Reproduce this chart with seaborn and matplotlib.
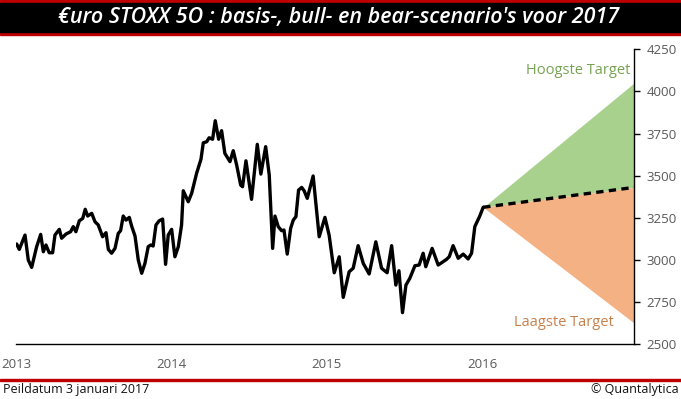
import matplotlib
matplotlib.use("Agg")
import matplotlib.pyplot as plt
import seaborn as sns
import pandas as pd
from matplotlib.patches import Rectangle

# Euro STOXX 50 (x in years)
years = [2013.001, 2013.018, 2013.055, 2013.076, 2013.098, 2013.130, 2013.156, 2013.173,
         2013.190, 2013.211, 2013.233, 2013.248, 2013.276, 2013.291, 2013.319, 2013.349,
         2013.366, 2013.383, 2013.405, 2013.427, 2013.443, 2013.459, 2013.485, 2013.506,
         2013.527, 2013.555, 2013.577, 2013.592, 2013.613, 2013.635, 2013.656, 2013.671,
         2013.688, 2013.706, 2013.727, 2013.742, 2013.764, 2013.785, 2013.807, 2013.828,
         2013.849, 2013.865, 2013.881, 2013.899, 2013.920, 2013.942, 2013.961, 2013.978,
         2014.000, 2014.021, 2014.043, 2014.064, 2014.075, 2014.107, 2014.129, 2014.161,
         2014.189, 2014.204, 2014.226, 2014.242, 2014.264, 2014.281, 2014.303, 2014.322,
         2014.343, 2014.376, 2014.397, 2014.419, 2014.445, 2014.457, 2014.479, 2014.515,
         2014.552, 2014.575, 2014.606, 2014.629, 2014.651, 2014.666, 2014.687, 2014.709,
         2014.724, 2014.745, 2014.767, 2014.784, 2014.801, 2014.818, 2014.838, 2014.854,
         2014.874, 2014.912, 2014.951, 2014.988, 2015.015, 2015.048, 2015.080, 2015.106,
         2015.144, 2015.170, 2015.202, 2015.235, 2015.273, 2015.316, 2015.353, 2015.389,
         2015.418, 2015.445, 2015.465, 2015.488, 2015.510, 2015.535, 2015.568, 2015.595,
         2015.621, 2015.638, 2015.679, 2015.718, 2015.772, 2015.789, 2015.814, 2015.847,
         2015.879, 2015.911, 2015.933, 2015.954, 2015.986, 2016.008]
stoxx = [3094, 3062, 3147, 2999, 2955, 3078, 3151, 3048,
         3088, 3042, 3042, 3147, 3181, 3128, 3153, 3167,
         3197, 3167, 3232, 3246, 3300, 3260, 3276, 3226,
         3207, 3137, 3161, 3062, 3039, 3068, 3157, 3173,
         3260, 3236, 3252, 3201, 3141, 2999, 2920, 2979,
         3078, 3088, 3082, 3207, 3232, 3242, 2973, 3147,
         3181, 3018, 3078, 3207, 3410, 3345, 3395, 3514,
         3597, 3695, 3701, 3725, 3716, 3826, 3716, 3767,
         3632, 3583, 3648, 3563, 3444, 3434, 3588, 3359,
         3686, 3509, 3672, 3504, 3068, 3260, 3197, 3173,
         3177, 3034, 3187, 3236, 3256, 3414, 3430, 3410,
         3365, 3498, 3137, 3252, 3147, 2923, 3018, 2777,
         2929, 2950, 3084, 2979, 2916, 3107, 2950, 2923,
         3084, 2850, 2935, 2686, 2850, 2890, 2965, 2969,
         3039, 2959, 3068, 2969, 3003, 3018, 3084, 3009,
         3034, 3005, 3039, 3197, 3260, 3312]

# scenarios 2017
scen_x = [2016.008, 2016.98]
basis = [3312, 3430]
bull = [3312, 4050]
bear = [3312, 2625]

y_ticks = [2500, 2750, 3000, 3250, 3500, 3750, 4000, 4250]
x_ticks = [2013, 2014, 2015, 2016]

df = pd.DataFrame({"jaar": years, "koers": stoxx})

sns.set_style("white")
plt.rcParams["font.family"] = ["Open Sans", "DejaVu Sans"]

fig = plt.figure(figsize=(6.81, 3.99), dpi=100)
ax = fig.add_axes([0.0242, 0.1378, 0.9068, 0.7386])

ax.fill_between(scen_x, basis, bull, color="#a9d18e", lw=0, zorder=1)
ax.fill_between(scen_x, bear, basis, color="#f4b183", lw=0, zorder=1)
sns.lineplot(data=df, x="jaar", y="koers", color="black", lw=2.4, ax=ax, zorder=3)
ax.plot(scen_x, basis, color="black", lw=2.4, ls=(0, (2.2, 1.6)), zorder=3)

ax.text(2016.62, 4125, "Hoogste Target", color="#76a352", fontsize=10.5,
        ha="center", va="center")
ax.text(2016.53, 2625, "Laagste Target", color="#c8804a", fontsize=10.5,
        ha="center", va="center")

ax.set_xlim(2013, 2016.98)
ax.set_ylim(2500, 4250)
ax.set_xticks(x_ticks)
ax.set_xticklabels([str(x) for x in x_ticks])
ax.set_yticks(y_ticks)
ax.yaxis.tick_right()
ax.set_xlabel("")
ax.set_ylabel("")
for s in ["top", "left"]:
    ax.spines[s].set_visible(False)
for s in ["right", "bottom"]:
    ax.spines[s].set_color("black")
    ax.spines[s].set_linewidth(1)
ax.tick_params(axis="x", direction="inout", length=8, width=1, color="black",
               labelsize=9.5, labelcolor="#595959", pad=6)
ax.tick_params(axis="y", direction="out", length=4, width=1, color="black",
               labelsize=9.5, labelcolor="#595959", pad=5, right=True)
ax.grid(False)

# title bar
fig.patches.append(Rectangle((0, 1 - 35 / 399), 1, 35 / 399, transform=fig.transFigure,
                             color="#c00000", zorder=0))
fig.patches.append(Rectangle((0, 1 - 32 / 399), 1, 29 / 399, transform=fig.transFigure,
                             color="black", zorder=1))
fig.text(0.497, 1 - 17.5 / 399, "€uro STOXX 5O : basis-, bull- en bear-scenario's voor 2017",
         color="white", fontsize=15.5, fontweight="semibold", fontstyle="italic",
         ha="center", va="center")

# footer
fig.patches.append(Rectangle((0, 1 - 381 / 399), 1, 2.5 / 399, transform=fig.transFigure,
                             color="#c00000", zorder=0))
fig.text(0.005, 1 - 389 / 399, "Peildatum 3 januari 2017", fontsize=9, color="#111111",
         ha="left", va="center")
fig.text(0.996, 1 - 389 / 399, "© Quantalytica", fontsize=9, color="#111111",
         ha="right", va="center")

fig.savefig("out.png", dpi=100)
